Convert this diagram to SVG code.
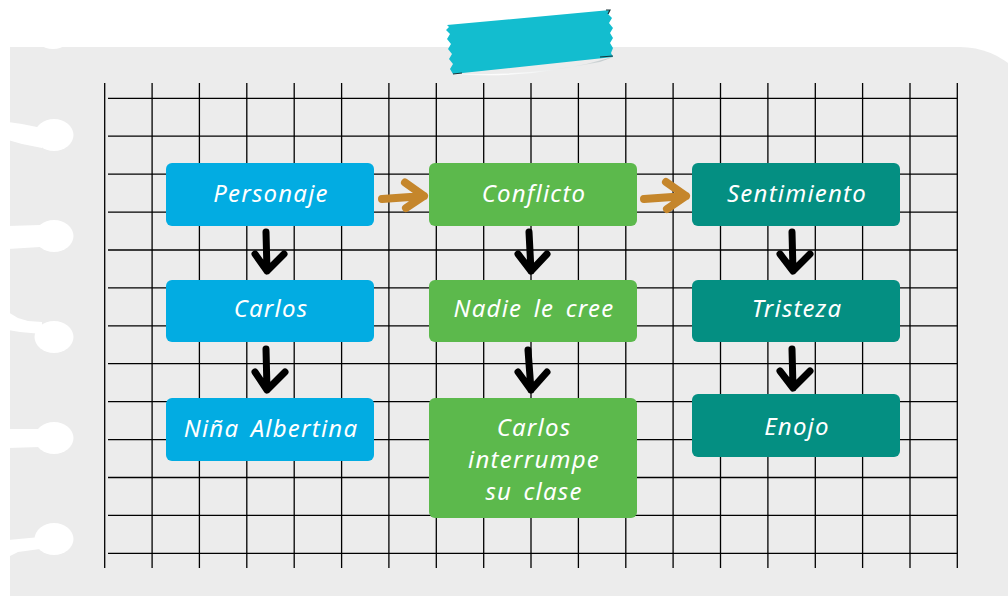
<svg xmlns="http://www.w3.org/2000/svg" width="1008" height="596" viewBox="0 0 1008 596">
<defs>
<style>
.page{fill:#ececec}
.hole{fill:#ffffff}
.grid line{stroke:#000;stroke-width:1.3}
.box rect{rx:6;ry:6}
.blue{fill:#02ace2}
.green{fill:#5cb94c}
.teal{fill:#048f82}
.t{fill:#ffffff;font-family:"Noto Sans","DejaVu Sans",sans-serif;font-style:italic;font-size:24px;letter-spacing:1.2px;word-spacing:4px;text-anchor:middle}
.down{fill:none;stroke:#000;stroke-width:7;stroke-linecap:round;stroke-linejoin:round}
.side{fill:none;stroke:#c5862b;stroke-width:8;stroke-linecap:round;stroke-linejoin:round}
</style>
<linearGradient id="sh" x1="0" y1="0" x2="0" y2="1">
<stop offset="0" stop-color="#b9c2c4"/>
<stop offset="1" stop-color="#ffffff"/>
</linearGradient>
</defs>
<rect width="1008" height="596" fill="#ffffff"/>
<g id="page">
<path class="page" d="M10,47 H960 A80,80 0 0 1 1040,127 V600 H10 Z"/>
<ellipse class="hole" cx="53" cy="31" rx="20" ry="18"/>
<ellipse class="hole" cx="54" cy="135" rx="19.5" ry="16"/>
<path class="hole" d="M8,122 L22,124 L42,128 L42,148 L22,144 L8,140 Z"/>
<ellipse class="hole" cx="54" cy="236" rx="19.5" ry="16"/>
<path class="hole" d="M8,226 L40,225 L40,247 L8,249 Z"/>
<ellipse class="hole" cx="54" cy="337" rx="19.5" ry="16"/>
<path class="hole" d="M8,312 L18,318 L28,321 L42,322 L42,334 L20,332 L8,330 Z"/>
<ellipse class="hole" cx="54" cy="438" rx="19.5" ry="16"/>
<path class="hole" d="M8,429 L40,429 L40,447 L8,448 Z"/>
<ellipse class="hole" cx="54" cy="539" rx="19.5" ry="16"/>
<path class="hole" d="M8,540 L40,537 L40,549 L18,552 L8,557 Z"/>
</g>
<g id="grid" class="grid">
<line x1="104.7" y1="83" x2="104.7" y2="568"/>
<line x1="152.1" y1="83" x2="152.1" y2="568"/>
<line x1="199.4" y1="83" x2="199.4" y2="568"/>
<line x1="246.8" y1="83" x2="246.8" y2="568"/>
<line x1="294.2" y1="83" x2="294.2" y2="568"/>
<line x1="341.6" y1="83" x2="341.6" y2="568"/>
<line x1="388.9" y1="83" x2="388.9" y2="568"/>
<line x1="436.3" y1="83" x2="436.3" y2="568"/>
<line x1="483.7" y1="83" x2="483.7" y2="568"/>
<line x1="531.0" y1="83" x2="531.0" y2="568"/>
<line x1="578.4" y1="83" x2="578.4" y2="568"/>
<line x1="625.8" y1="83" x2="625.8" y2="568"/>
<line x1="673.1" y1="83" x2="673.1" y2="568"/>
<line x1="720.5" y1="83" x2="720.5" y2="568"/>
<line x1="767.9" y1="83" x2="767.9" y2="568"/>
<line x1="815.3" y1="83" x2="815.3" y2="568"/>
<line x1="862.6" y1="83" x2="862.6" y2="568"/>
<line x1="910.0" y1="83" x2="910.0" y2="568"/>
<line x1="957.3" y1="83" x2="957.3" y2="568"/>
<line x1="108" y1="98.3" x2="957.3" y2="98.3"/>
<line x1="108" y1="136.2" x2="957.3" y2="136.2"/>
<line x1="108" y1="174.1" x2="957.3" y2="174.1"/>
<line x1="108" y1="212.1" x2="957.3" y2="212.1"/>
<line x1="108" y1="250.0" x2="957.3" y2="250.0"/>
<line x1="108" y1="287.9" x2="957.3" y2="287.9"/>
<line x1="108" y1="325.8" x2="957.3" y2="325.8"/>
<line x1="108" y1="363.7" x2="957.3" y2="363.7"/>
<line x1="108" y1="401.7" x2="957.3" y2="401.7"/>
<line x1="108" y1="439.6" x2="957.3" y2="439.6"/>
<line x1="108" y1="477.5" x2="957.3" y2="477.5"/>
<line x1="108" y1="515.4" x2="957.3" y2="515.4"/>
<line x1="108" y1="553.3" x2="957.3" y2="553.3"/>
</g>
<g id="tape">
<path d="M453,74 Q535,80 613,57 L600,62 Q530,76 453,74 Z" fill="url(#sh)"/>
<polygon fill="#13bdcf" points="447,25 610,10 608,14 612,18 609,23 613,28 610,33 613,38 610,43 613,48 611,53 613,57 453,74 450,69 453,64 449,59 452,54 448,49 451,44 447,39 450,34 446,30 449,27"/>
<path d="M600,57 L613,56 M453,74 L462,73 M606,10 L610,10 L608,14" fill="none" stroke="#1a3438" stroke-width="1.2"/>
</g>
<g id="connectors">
<path class="side" d="M382,199 L424,196 M405,182.5 L424,196 L406,208"/>
<path class="side" d="M644,199 L686,196 M666,182 L686,196 L667,209"/>
<path class="down" d="M266,232 L267,271 M255,254 L267,271 L284,254"/>
<path class="down" d="M266,349 L267,390 M255,372 L267,390 L285,372"/>
<path class="down" d="M529,232 L531,271 M518,254 L531,271 L547,254"/>
<path class="down" d="M528,350 L531,390 M518,372 L531,390 L547,372"/>
<path class="down" d="M792,232 L793,271 M780,254 L793,271 L810,254"/>
<path class="down" d="M792,349 L793,388 M780,371 L793,388 L810,371"/>
</g>
<g id="n-personaje" class="box"><rect class="blue" x="166" y="163" width="208" height="63"/><text class="t" x="271" y="202">Personaje</text></g>
<g id="n-carlos" class="box"><rect class="blue" x="166" y="280" width="208" height="62"/><text class="t" x="271" y="317">Carlos</text></g>
<g id="n-nina" class="box"><rect class="blue" x="166" y="398" width="208" height="63"/><text class="t" x="271" y="437">Niña Albertina</text></g>
<g id="n-conflicto" class="box"><rect class="green" x="429" y="163" width="208" height="63"/><text class="t" x="534" y="202">Conflicto</text></g>
<g id="n-nadie" class="box"><rect class="green" x="429" y="280" width="208" height="62"/><text class="t" x="534" y="317">Nadie le cree</text></g>
<g id="n-interrumpe" class="box"><rect class="green" x="429" y="398" width="208" height="120"/><text class="t" x="534" y="436">Carlos</text><text class="t" x="534" y="468">interrumpe</text><text class="t" x="534" y="500">su clase</text></g>
<g id="n-sentimiento" class="box"><rect class="teal" x="692" y="163" width="208" height="63"/><text class="t" x="797" y="202">Sentimiento</text></g>
<g id="n-tristeza" class="box"><rect class="teal" x="692" y="280" width="208" height="62"/><text class="t" x="797" y="317">Tristeza</text></g>
<g id="n-enojo" class="box"><rect class="teal" x="692" y="394" width="208" height="63"/><text class="t" x="797" y="435">Enojo</text></g>
</svg>
